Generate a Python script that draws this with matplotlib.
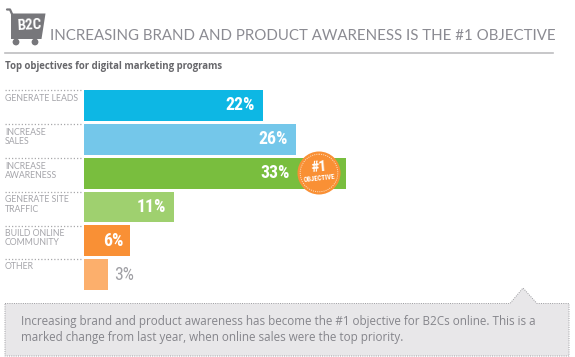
import matplotlib
matplotlib.use("Agg")
import matplotlib.pyplot as plt
from matplotlib.patches import Circle, Polygon

W, H = 575, 357

# objectives, top to bottom
categories = ["GENERATE LEADS", "INCREASE\nSALES", "INCREASE\nAWARENESS",
              "GENERATE SITE\nTRAFFIC", "BUILD ONLINE\nCOMMUNITY", "OTHER"]
value_labels = ["22%", "26%", "33%", "11%", "6%", "3%"]
# bar lengths, they are not quite to scale
values = [22.1, 26.2, 32.3, 11.1, 5.7, 3.0]
bar_colors = ["#0db7e4", "#74c7ea", "#79be3e", "#9fd06f", "#f99035", "#fcaf6c"]

title = "INCREASING BRAND AND PRODUCT AWARENESS IS THE #1 OBJECTIVE"
subtitle = "Top objectives for digital marketing programs"
note = ("Increasing brand and product awareness has become the #1 objective for B2Cs online. This is a\n"
        "marked change from last year, when online sales were the top priority.")

NARROW = ["Roboto Condensed", "Roboto", "DejaVu Sans"]
LIGHT = ["Lato", "DejaVu Sans"]
BODY = ["Open Sans", "DejaVu Sans"]

fig = plt.figure(figsize=(W / 100, H / 100), dpi=100, facecolor="white")

# overlay in pixel coordinates for the furniture
bg = fig.add_axes([0, 0, 1, 1])
bg.set_xlim(0, W)
bg.set_ylim(H, 0)
bg.axis("off")

# cart icon
bg.add_patch(Polygon([(11, 13.5), (45.5, 13.5), (41.5, 39), (11, 39)], fc="#77777b", ec="none"))
bg.plot([7, 10, 12], [9.5, 9.5, 14], color="#77777b", lw=1.6, solid_capstyle="round")
bg.add_patch(Circle((16, 42), 3.4, fc="#77777b", ec="none"))
bg.add_patch(Circle((35, 42), 3.4, fc="#77777b", ec="none"))
bg.text(29, 25, "B2C", color="white", fontsize=10.8, fontweight="bold", stretch="condensed",
        family=NARROW, ha="center", va="center", rotation=3)

bg.text(50, 36.5, title, color="#8b8b92", fontsize=10.77, family=LIGHT, ha="left", va="center")
bg.plot([5, 553], [53, 53], color="#bdbdc0", lw=1.2)
bg.text(5, 67, subtitle, color="#67676b", fontsize=6.95, fontweight="bold",
        family=BODY, ha="left", va="center")

# bars, on their own scale
px_per_unit = 8.1
row = 33.9
ax = fig.add_axes([84 / W, 1 - 291.75 / H, 324 / W, 203.4 / H])
ax.set_xlim(0, 324 / px_per_unit)
ax.barh(range(len(values)), values, height=0.91, color=bar_colors, edgecolor="none")
ax.set_ylim(5.5, -0.5)
ax.axis("off")

# gap between bar end and label end, pixels
label_gap = [8, 8.7, 56, 8, 7, 6]
for i, (lab, txt) in enumerate(zip(categories, value_labels)):
    top = 90 + i * row - (1 if i == 5 else 0)
    bg.plot([5, 83], [top, top], color="#a8a8ab", lw=0.9, ls=(0, (1, 1.6)))
    bg.text(5, top + 3.8, lab, color="#a5a5aa", fontsize=6.3, family=LIGHT,
            ha="left", va="top", linespacing=1.0)
    if i == 5:
        ax.annotate(txt, (values[i], i), xytext=(label_gap[i] * 0.72, 0), textcoords="offset points",
                    color="#a0a0a5", fontsize=12.8, stretch="condensed", family=NARROW,
                    ha="left", va="center")
    else:
        ax.annotate(txt, (values[i], i), xytext=(-label_gap[i] * 0.72, 0), textcoords="offset points",
                    color="white", fontsize=12.8, fontweight="semibold", stretch="condensed",
                    family=NARROW, ha="right", va="center")

# badge
bg.add_patch(Circle((319, 173), 21.5, fc="#f99035", ec="none", zorder=5))
bg.add_patch(Circle((319, 173), 18.8, fc="none", ec="#fde3c8", lw=0.7, ls=(0, (1, 1.2)), zorder=6))
bg.text(319, 167, "#1", color="white", fontsize=11, fontweight="bold", stretch="condensed",
        family=NARROW, ha="center", va="center", rotation=5, zorder=7)
bg.text(319, 178, "OBJECTIVE", color="white", fontsize=5, fontweight="bold", stretch="condensed",
        family=NARROW, ha="center", va="center", rotation=6, zorder=7)
bg.set_zorder(ax.get_zorder() + 1)
bg.patch.set_visible(False)

# note box with its pointer
bg.add_patch(Polygon([(5, 303.5), (510, 303.5), (523, 288), (537, 303.5), (569, 303.5),
                      (569, 356), (5, 356)], closed=True, fc="#e8e7e9", ec="#9c9ca0",
                     lw=0.7, ls=(0, (1, 1.3))))
bg.text(21, 329.5, note, color="#85858b", fontsize=8.4, family=BODY,
        ha="left", va="center", linespacing=1.25)

fig.savefig("out.png", dpi=100)
